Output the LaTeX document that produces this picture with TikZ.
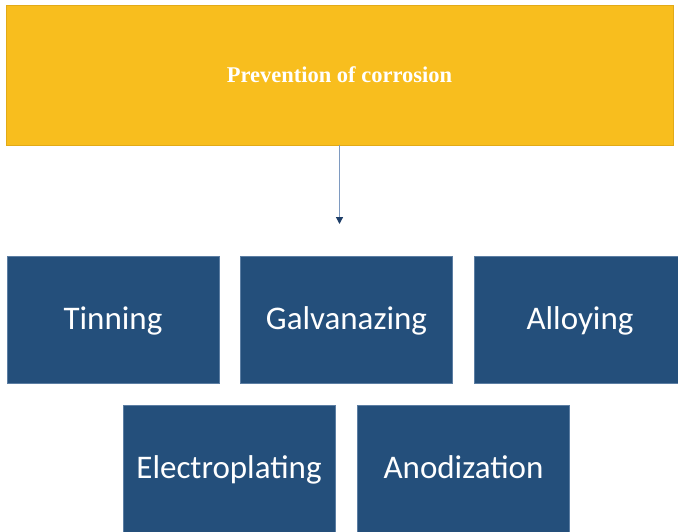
\documentclass[tikz,border=0pt]{standalone}
\usepackage{fontspec}
\setmainfont{Liberation Serif}
\newfontfamily\boxfont{Carlito}
\usetikzlibrary{arrows.meta}
\definecolor{headfill}{HTML}{F8BE1E}
\definecolor{headedge}{HTML}{E2AA17}
\definecolor{itemfill}{HTML}{244F7B}
\definecolor{itemedge}{HTML}{5C7EA3}
\definecolor{shaft}{HTML}{7E9AC0}
\definecolor{tipcol}{HTML}{1E3E68}
\tikzset{
  headbox/.style={rectangle, fill=headfill, draw=headedge, line width=0.8pt,
    inner sep=0pt, minimum width=667pt, minimum height=140pt,
    text height=15pt, text depth=0pt,
    text=white, font=\bfseries\fontsize{22.5}{26}\selectfont},
  itembox/.style={rectangle, fill=itemfill, draw=itemedge, line width=0.6pt,
    inner sep=0pt, minimum width=212pt, minimum height=127pt,
    text height=19pt, text depth=0pt,
    text=white, font=\boxfont\fontsize{33}{38}\selectfont},
  link/.style={draw=shaft, line width=1.2pt,
    -{Triangle[length=7pt, width=7pt, color=tipcol]}}
}
\begin{document}
\begin{tikzpicture}[x=1pt, y=-1pt]
  \useasboundingbox (0,0) rectangle (678,531);
  \clip (0,0) rectangle (678,531);
  \fill[white] (0,0) rectangle (678,531);

  % heading
  \node[headbox] (head) at (339.5,75) {Prevention of corrosion};
  \coordinate (below) at (339.5,224);
  \draw[link] (head.south) -- (below);

  % first row
  \node[itembox] (tin)   at (113,319.5) {Tinning};
  \node[itembox] (galv)  at (346.5,319.5) {Galvanazing};
  \node[itembox] (alloy) at (580,319.5) {Alloying};

  % second row
  \node[itembox] (elec)  at (229,468.5) {Electroplating};
  \node[itembox] (anod)  at (463.5,468.5) {Anodization};
\end{tikzpicture}
\end{document}
